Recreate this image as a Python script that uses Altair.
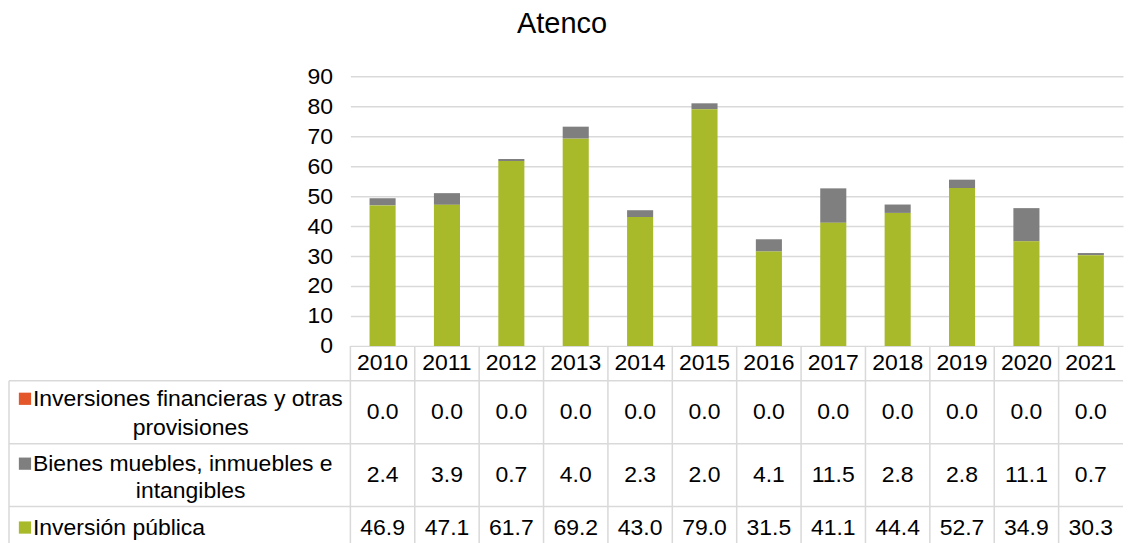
import altair as alt
import pandas as pd

# ---------------- data ----------------
years = ["2010", "2011", "2012", "2013", "2014", "2015",
         "2016", "2017", "2018", "2019", "2020", "2021"]
inv_financieras = [0.0, 0.0, 0.0, 0.0, 0.0, 0.0, 0.0, 0.0, 0.0, 0.0, 0.0, 0.0]
bienes_muebles = [2.4, 3.9, 0.7, 4.0, 2.3, 2.0, 4.1, 11.5, 2.8, 2.8, 11.1, 0.7]
inversion_publica = [46.9, 47.1, 61.7, 69.2, 43.0, 79.0, 31.5, 41.1, 44.4, 52.7, 34.9, 30.3]

series = ["Inversiones financieras y otras provisiones",
          "Bienes muebles, inmuebles e intangibles",
          "Inversión pública"]
label_line1 = ["Inversiones financieras y otras", "Bienes muebles, inmuebles e", "Inversión pública"]
label_line2 = ["provisiones", "intangibles", ""]
colors = ["#E4572A", "#7F7F7F", "#A8B92A"]
stack_order = [2, 1, 0]
y_ticks = [0, 10, 20, 30, 40, 50, 60, 70, 80, 90]

series_values = [inv_financieras, bienes_muebles, inversion_publica]
rows = []
for s, vals, o in zip(series, series_values, stack_order):
    for yr, v in zip(years, vals):
        rows.append({"year": yr, "series": s, "value": v, "order": o})
df = pd.DataFrame(rows)
df_years = pd.DataFrame({"year": years})
df_labels = pd.DataFrame({"series": series, "l1": label_line1, "l2": label_line2})

# ---------------- layout constants ----------------
FONT = "Liberation Sans"
FS = 23
GRID = "#D9D9D9"
LW = 1.5
LEFT_W = 342
RIGHT_W = 774
H = 483
Y0, Y90 = 285, 15                      # bar scale range
HEADER_Y = 302                         # year row centre
ROW_TOP = [320, 383, 446]              # table row tops
ROW_TEXT_Y = [351.5, 414.5, 467]       # value text centres
LINE1_Y = [338, 403, 467]
LINE2_Y = [367, 430, 467]
LINE2_X = 182

xscale = alt.Scale(domain=years, paddingInner=0, paddingOuter=0)

# ---------------- right panel: bars + table values ----------------
bars = alt.Chart(df).mark_bar(width=alt.RelativeBandSize(0.405)).encode(
    x=alt.X("year:N", scale=xscale, axis=None),
    y=alt.Y("value:Q", stack="zero",
            scale=alt.Scale(domain=[0, 90], range=[Y0, Y90], nice=False, zero=False),
            axis=alt.Axis(values=y_ticks, grid=True, gridColor=GRID, gridWidth=LW,
                          domain=False, ticks=False, labelFontSize=FS, labelFont=FONT,
                          labelColor="black", labelPadding=18, title=None)),
    color=alt.Color("series:N", scale=alt.Scale(domain=series, range=colors), legend=None),
    order=alt.Order("order:Q"),
)

header = alt.Chart(df_years).mark_text(fontSize=FS, font=FONT, color="black", baseline="middle").encode(
    x=alt.X("year:N", scale=xscale, axis=None),
    y=alt.value(HEADER_Y),
    text="year:N",
)

value_layers = []
for s, ty in zip(series, ROW_TEXT_Y):
    value_layers.append(
        alt.Chart(df).transform_filter(alt.datum.series == s)
        .mark_text(fontSize=FS, font=FONT, color="black", baseline="middle")
        .encode(x=alt.X("year:N", scale=xscale, axis=None),
                y=alt.value(ty),
                text=alt.Text("value:Q", format=".1f"))
    )

vlines = alt.Chart(df_years).mark_rule(color=GRID, strokeWidth=LW).encode(
    x=alt.X("year:N", scale=xscale, axis=None, bandPosition=0),
    y=alt.value(Y0), y2=alt.value(H),
)

hlines_r = []
for ry in ROW_TOP:
    hlines_r.append(
        alt.Chart(df_years.head(1)).mark_rule(color=GRID, strokeWidth=LW).encode(
            x=alt.value(0), x2=alt.value(RIGHT_W), y=alt.value(ry))
    )

right = alt.layer(vlines, *hlines_r, bars, header, *value_layers).properties(
    width=RIGHT_W, height=H)

# ---------------- left panel: row labels ----------------
left_layers = []
for ry in ROW_TOP:
    left_layers.append(
        alt.Chart(df_years.head(1)).mark_rule(color=GRID, strokeWidth=LW).encode(
            x=alt.value(0), x2=alt.value(LEFT_W), y=alt.value(ry))
    )
left_layers.append(
    alt.Chart(df_years.head(1)).mark_rule(color=GRID, strokeWidth=LW).encode(
        x=alt.value(0), y=alt.value(ROW_TOP[0]), y2=alt.value(H))
)
for s, c, y1, y2 in zip(series, colors, LINE1_Y, LINE2_Y):
    d = df_labels[df_labels.series == s]
    left_layers.append(
        alt.Chart(d).mark_square(size=150, color=c, opacity=1).encode(
            x=alt.value(16), y=alt.value(y1))
    )
    left_layers.append(
        alt.Chart(d).mark_text(fontSize=FS, font=FONT, color="black", align="left", baseline="middle").encode(
            x=alt.value(24), y=alt.value(y1), text="l1:N")
    )
    left_layers.append(
        alt.Chart(d).mark_text(fontSize=FS, font=FONT, color="black", align="center", baseline="middle").encode(
            x=alt.value(LINE2_X), y=alt.value(y2), text="l2:N")
    )

left = alt.layer(*left_layers).properties(width=LEFT_W, height=H)

chart = alt.hconcat(left, right, spacing=0, bounds="flush").properties(
    title=alt.Title("Atenco", fontSize=29, font=FONT, fontWeight="normal", color="black",
                    anchor="middle", offset=22, dx=-4),
    padding={"top": 2, "left": 0, "right": 0, "bottom": 0},
).configure_view(stroke=None)

chart.save("out.html", embed_options={"renderer": "svg", "actions": False})
